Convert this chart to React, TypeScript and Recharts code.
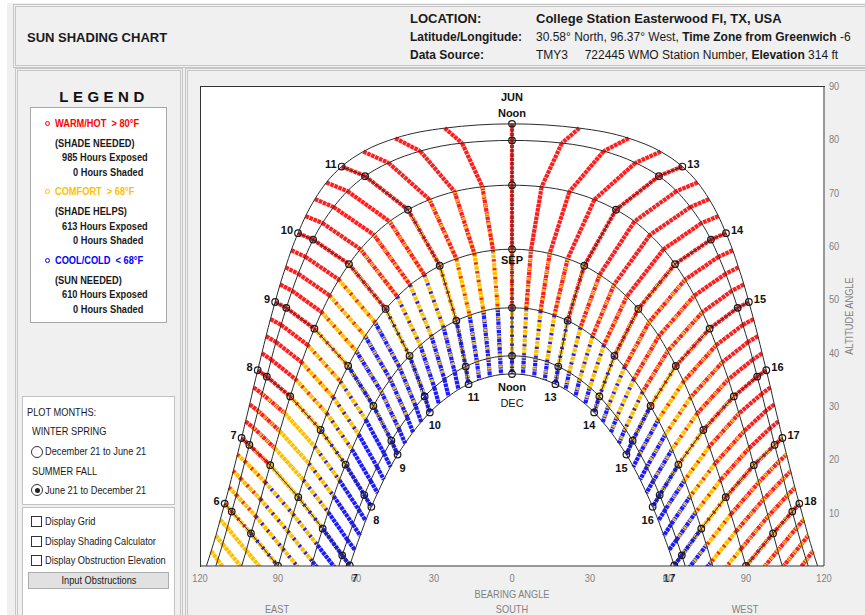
import React from 'react';
import { LineChart, Line, XAxis, YAxis, ReferenceDot } from 'recharts';

// Sun position on the 21st of each month, every quarter hour from solar noon (index 0)
// back to sunrise. Bearing is degrees from south; the afternoon is the mirror image (west).
const JUN_ALT = [82.9, 82.1, 80.2, 77.7, 74.9, 71.9, 68.8, 65.6, 62.4, 59.2, 56.0, 52.8, 49.5, 46.3, 43.1, 39.9, 36.7, 33.5, 30.3, 27.1, 24.0, 20.9, 17.8, 14.7, 11.7, 8.7, 5.7, 2.8, -0.1];
const JUN_BRG = [0, 25.9, 44.9, 57.2, 65.5, 71.4, 75.8, 79.4, 82.3, 84.9, 87.1, 89.2, 91.1, 92.9, 94.6, 96.2, 97.8, 99.4, 100.9, 102.5, 104.0, 105.6, 107.2, 108.8, 110.5, 112.2, 113.9, 115.7, 117.6];
const JUL_ALT = [79.8, 79.3, 77.8, 75.6, 73.1, 70.3, 67.3, 64.3, 61.2, 58.0, 54.8, 51.6, 48.4, 45.2, 42.0, 38.7, 35.5, 32.3, 29.1, 25.9, 22.7, 19.6, 16.4, 13.3, 10.2, 7.2, 4.1, 1.1, -1.8];
const JUL_BRG = [0, 19.2, 35.3, 47.5, 56.5, 63.3, 68.6, 72.9, 76.5, 79.5, 82.2, 84.6, 86.8, 88.8, 90.8, 92.6, 94.3, 96.1, 97.7, 99.4, 101.0, 102.7, 104.4, 106.0, 107.8, 109.5, 111.3, 113.2, 115.1];
const AUG_ALT = [71.4, 71.1, 70.2, 68.7, 66.8, 64.6, 62.1, 59.4, 56.6, 53.7, 50.7, 47.6, 44.5, 41.4, 38.2, 35.0, 31.8, 28.6, 25.3, 22.1, 18.9, 15.7, 12.5, 9.3, 6.1, 2.9, -0.2, -3.4];
const AUG_BRG = [0, 11.4, 22.1, 31.7, 40.0, 47.1, 53.1, 58.3, 62.7, 66.6, 70.1, 73.2, 76.0, 78.5, 80.9, 83.2, 85.3, 87.3, 89.3, 91.2, 93.0, 94.9, 96.7, 98.5, 100.4, 102.2, 104.1, 106.1];
const SEP_ALT = [59.4, 59.2, 58.6, 57.6, 56.3, 54.6, 52.7, 50.5, 48.2, 45.7, 43.1, 40.3, 37.5, 34.6, 31.6, 28.6, 25.5, 22.4, 19.2, 16.1, 12.9, 9.7, 6.5, 3.2, 0, -3.2];
const SEP_BRG = [0, 7.3, 14.5, 21.4, 27.8, 33.7, 39.2, 44.1, 48.6, 52.7, 56.5, 59.9, 63.0, 66.0, 68.7, 71.2, 73.6, 75.9, 78.1, 80.2, 82.2, 84.2, 86.2, 88.1, 90.0, 91.9];
const OCT_ALT = [48.4, 48.3, 47.8, 47.0, 46.0, 44.7, 43.1, 41.4, 39.4, 37.3, 35.0, 32.6, 30.0, 27.4, 24.7, 21.9, 19.0, 16.1, 13.1, 10.1, 7.0, 3.9, 0.8, -2.4];
const OCT_BRG = [0, 5.5, 11.0, 16.3, 21.4, 26.3, 31.0, 35.3, 39.4, 43.3, 46.8, 50.2, 53.3, 56.2, 59.0, 61.6, 64.0, 66.4, 68.6, 70.7, 72.8, 74.8, 76.7, 78.6];
const NOV_ALT = [39.4, 39.3, 38.9, 38.3, 37.4, 36.3, 35.0, 33.5, 31.8, 29.9, 27.9, 25.7, 23.5, 21.1, 18.6, 16.0, 13.3, 10.6, 7.8, 4.9, 2.0, -0.9, -3.9];
const NOV_BRG = [0, 4.6, 9.1, 13.5, 17.8, 22.0, 26.0, 29.9, 33.6, 37.0, 40.3, 43.5, 46.4, 49.2, 51.9, 54.4, 56.8, 59.0, 61.2, 63.3, 65.3, 67.2, 69.0];
const DEC_ALT = [36.0, 35.9, 35.5, 34.9, 34.1, 33.1, 31.8, 30.4, 28.8, 27.0, 25.1, 23.0, 20.9, 18.6, 16.2, 13.7, 11.1, 8.5, 5.7, 3.0, 0.1, -2.8];
const DEC_BRG = [0, 4.2, 8.5, 12.6, 16.7, 20.6, 24.4, 28.1, 31.6, 34.9, 38.1, 41.1, 44.0, 46.7, 49.3, 51.7, 54.1, 56.3, 58.4, 60.4, 62.4, 64.3];

const ALTITUDES = [JUN_ALT, JUL_ALT, AUG_ALT, SEP_ALT, OCT_ALT, NOV_ALT, DEC_ALT];
const BEARINGS = [JUN_BRG, JUL_BRG, AUG_BRG, SEP_BRG, OCT_BRG, NOV_BRG, DEC_BRG];

const BEARING_TICKS = [-120, -90, -60, -30, 0, 30, 60, 90, 120];
const ALTITUDE_TICKS = [10, 20, 30, 40, 50, 60, 70, 80, 90];

// temperature class of the dots between two dates, by clock hour
// first letter = main colour, second = odd dots mixed in
const HOUR_BINS = [5, 6, 7, 8, 9, 10, 11, 12, 13, 14, 15, 16, 17, 18];
const TEMP_CLASS = [
  ['Y', 'YR', 'R', 'R', 'R', 'R', 'R', 'R', 'R', 'R', 'R', 'R', 'RY', 'RY'], // jun-jul
  ['Y', 'YR', 'RY', 'R', 'R', 'R', 'R', 'R', 'R', 'R', 'R', 'R', 'RY', 'RY'], // jul-aug
  ['Y', 'YB', 'Y', 'YR', 'YR', 'RY', 'RY', 'R', 'R', 'RY', 'RY', 'RY', 'RY', 'RY'], // aug-sep
  ['Y', 'YB', 'YB', 'YB', 'BY', 'YB', 'YR', 'RY', 'RY', 'RY', 'YR', 'YR', 'YR', 'Y'], // sep-oct
  ['B', 'B', 'B', 'B', 'BY', 'BY', 'BY', 'YB', 'YB', 'YB', 'BY', 'BY', 'BY', 'B'], // oct-nov
  ['B', 'B', 'B', 'B', 'B', 'B', 'BY', 'BY', 'BY', 'BY', 'B', 'B', 'B', 'B'], // nov-dec
];
const TEMP_COLORS: Record<string, string> = { R: '#ff1e1e', Y: '#ffc000', B: '#1c1cff' };

const JUN_HOURS = [6, 7, 8, 9, 10, 11, 13, 14, 15, 16, 17, 18];
const DEC_HOURS = [7, 8, 9, 10, 11, 13, 14, 15, 16, 17];

const LEGEND_ROWS = [
  { title: 'WARM/HOT  > 80°F', need: '(SHADE NEEDED)', exposed: 985, shaded: 0, color: '#ff0000' },
  { title: 'COMFORT  > 68°F', need: '(SHADE HELPS)', exposed: 613, shaded: 0, color: '#ffc000' },
  { title: 'COOL/COLD  < 68°F', need: '(SUN NEEDED)', exposed: 610, shaded: 0, color: '#0000ff' },
];

const FONT = '"Liberation Sans", Arial, sans-serif';
const SQUEEZE = 0.84; // the form uses a narrow face; squeeze the regular one to match

type Pt = { x: number | null; y: number | null };
const GAP: Pt = { x: null, y: null };

const sunAt = (d: number, i: number, side: number): Pt => ({ x: side * BEARINGS[d][i], y: ALTITUDES[d][i] });

// one clock time followed from June to December, until the sun is down at that time
const track = (i: number, side: number): Pt[] => {
  const pts: Pt[] = [];
  for (let d = 0; d < ALTITUDES.length && i < ALTITUDES[d].length; d++) {
    pts.push(sunAt(d, i, side));
    if (ALTITUDES[d][i] <= 0) break;
  }
  return pts;
};

const STEPS = JUN_ALT.length;
const sides = (i: number) => (i === 0 ? [1] : [-1, 1]);

const dotted: Record<string, Pt[]> = { R: [], Y: [], B: [] };
const sprinkled: Record<string, Pt[]> = { R: [], Y: [], B: [] };
for (let i = 0; i < STEPS; i++) {
  for (const side of sides(i)) {
    const col = HOUR_BINS.indexOf(Math.floor(12 + (side * i) / 4));
    const pts = track(i, side);
    for (let k = 0; k + 1 < pts.length; k++) {
      const cls = TEMP_CLASS[k][col];
      dotted[cls[0]].push(pts[k], pts[k + 1], GAP);
      if (cls[1]) sprinkled[cls[1]].push(pts[k], pts[k + 1], GAP);
    }
  }
}

const dateArcs: Pt[] = [];
ALTITUDES.forEach((alts, d) => {
  for (let i = alts.length - 1; i > 0; i--) dateArcs.push(sunAt(d, i, -1));
  for (let i = 0; i < alts.length; i++) dateArcs.push(sunAt(d, i, 1));
  dateArcs.push(GAP);
});

const hourLines: Pt[] = [];
const hourMarks: Pt[] = [];
for (let i = 0; i < STEPS; i += 4) {
  for (const side of sides(i)) {
    const pts = track(i, side);
    if (pts.length > 1) hourLines.push(...pts, GAP);
    pts.forEach((p) => { if ((p.y as number) >= 0) hourMarks.push(p); });
  }
}

const hourPoint = (d: number, h: number) => {
  const side = h < 12 ? -1 : 1;
  return { ...sunAt(d, Math.abs(h - 12) * 4, side), side, text: String(h) };
};
const junLabels = JUN_HOURS.map((h) => hourPoint(0, h));
const decLabels = DEC_HOURS.map((h) => hourPoint(6, h));

const textAt = (lines: { t: string; dx: number; dy: number; anchor: string; bold?: boolean }[]) => (props: any) => {
  const vb = props.viewBox || props;
  return (
    <g>
      {lines.map((l, n) => (
        <text key={n} x={vb.x + l.dx} y={vb.y + l.dy} textAnchor={l.anchor} fontSize={11} fontFamily={FONT}
          fontWeight={l.bold === false ? 400 : 700} fill="#111">{l.t}</text>
      ))}
    </g>
  );
};

// axis tick text, squeezed about its anchor point
const AxisTick = ({ x, y, payload, textAnchor, dy }: any) => (
  <text x={x} y={y} dy={dy} textAnchor={textAnchor} fontSize={11} fontFamily={FONT} fill="#808080"
    transform={`translate(${x} 0) scale(${SQUEEZE} 1) translate(${-x} 0)`}>
    {String(Math.abs(payload.value))}
  </text>
);

const Txt = ({ x, y, size = 11, bold = false, color = '#1a1a1a', narrow = true, children }: any) => (
  <div style={{ position: 'absolute', left: x, top: y - size * 0.59, fontSize: size, lineHeight: `${size * 1.2}px`,
    fontWeight: bold ? 700 : 400, color, whiteSpace: 'pre', fontFamily: FONT,
    transform: narrow ? `scaleX(${SQUEEZE})` : undefined, transformOrigin: 'left center' }}>{children}</div>
);

const Centered = ({ x, y, size = 11, color = '#808080', children }: any) => (
  <div style={{ position: 'absolute', left: x - 60, top: y - size * 0.59, width: 120, textAlign: 'center', fontSize: size,
    lineHeight: `${size * 1.2}px`, color, whiteSpace: 'pre', fontFamily: FONT, transform: `scaleX(${SQUEEZE})` }}>{children}</div>
);

const box = (left: number, top: number, width: number, height: number, extra: any = {}) => (
  <div style={{ position: 'absolute', left, top, width, height, boxSizing: 'border-box', ...extra }} />
);

export default function App() {
  return (
    <div style={{ position: 'absolute', left: 0, top: 0, width: 865, height: 615, background: '#fff', overflow: 'hidden', fontFamily: FONT }}>
      {box(7, 3, 870, 620, { background: '#f0f0f0' })}
      {box(13, 4, 860, 64, { border: '3px double #c6c6c6' })}
      {box(15, 68, 168, 560, { border: '3px double #c6c6c6' })}
      {box(185, 68, 690, 560, { border: '3px double #c6c6c6' })}

      <Txt x={27} y={38} size={13} bold narrow={false}>SUN SHADING CHART</Txt>
      <Txt x={410} y={19} size={13} bold narrow={false}>LOCATION:</Txt>
      <Txt x={536} y={19} size={13} bold narrow={false}>College Station Easterwood Fl, TX, USA</Txt>
      <Txt x={410} y={37} size={12} bold narrow={false}>Latitude/Longitude:</Txt>
      <Txt x={536} y={37} size={12} narrow={false}>30.58° North, 96.37° West, <b>Time Zone from Greenwich</b> -6</Txt>
      <Txt x={410} y={55} size={12} bold narrow={false}>Data Source:</Txt>
      <Txt x={536} y={55} size={12} narrow={false}>{'TMY3     722445 WMO Station Number, '}<b>Elevation</b> 314 ft</Txt>

      <div style={{ position: 'absolute', left: 40, top: 88, width: 124, textAlign: 'center', fontSize: 15, fontWeight: 700,
        letterSpacing: 4.5, lineHeight: '18px', color: '#111', fontFamily: FONT, paddingLeft: 4, boxSizing: 'border-box' }}>LEGEND</div>
      {box(30, 107, 137, 216, { background: '#fff', border: '1px solid #a8a8a8' })}
      {LEGEND_ROWS.map((r, k) => {
        const y0 = 123 + k * 68.6;
        return (
          <React.Fragment key={r.title}>
            {box(44.5, y0 - 2.5, 5, 5, { border: `1.2px solid ${r.color}`, borderRadius: '50%' })}
            <Txt x={55} y={y0} bold color={r.color}>{r.title}</Txt>
            <Txt x={55} y={y0 + 20} bold>{r.need}</Txt>
            <Txt x={62} y={y0 + 34.5} bold>{`${r.exposed} Hours Exposed`}</Txt>
            <Txt x={73} y={y0 + 49} bold>{`${r.shaded} Hours Shaded`}</Txt>
          </React.Fragment>
        );
      })}

      {box(22, 396, 153, 109, { background: '#fff', border: '1px solid #c2c2c2' })}
      <Txt x={27} y={412} size={11}>PLOT MONTHS:</Txt>
      <Txt x={32} y={431.5} size={11}>WINTER SPRING</Txt>
      {box(31, 446, 12, 12, { border: '1px solid #333', borderRadius: '50%', background: '#fff' })}
      <Txt x={45} y={451.5} size={11}>December 21 to June 21</Txt>
      <Txt x={32} y={471} size={11}>SUMMER FALL</Txt>
      {box(31, 484, 12, 12, { border: '1px solid #333', borderRadius: '50%', background: '#fff' })}
      {box(34.5, 487.5, 5, 5, { borderRadius: '50%', background: '#222' })}
      <Txt x={45} y={490} size={11}>June 21 to December 21</Txt>

      {box(22, 507, 153, 120, { background: '#fff', border: '1px solid #c2c2c2' })}
      {[521.5, 541, 560.5].map((y) => <React.Fragment key={y}>{box(31, y - 5.5, 11, 11, { border: '1px solid #333', background: '#fff' })}</React.Fragment>)}
      <Txt x={45} y={521.5} size={11}>Display Grid</Txt>
      <Txt x={45} y={541} size={11}>Display Shading Calculator</Txt>
      <Txt x={45} y={560.5} size={11}>Display Obstruction Elevation</Txt>
      {box(28, 572, 141, 17, { background: '#e1e1e1', border: '1px solid #adadad' })}
      <Centered x={98.5} y={580.5} color="#1a1a1a">Input Obstructions</Centered>

      {box(200, 86, 625, 481, { background: '#fff', borderTop: '1px solid #333', borderLeft: '1px solid #333' })}

      <div style={{ position: 'absolute', left: 0, top: 0 }}>
        <LineChart width={865} height={615} margin={{ top: 86, right: 0, bottom: 0, left: 200 }}>
          <XAxis type="number" dataKey="x" domain={[-120, 120]} ticks={BEARING_TICKS} interval={0} allowDataOverflow
            height={49} tickLine={false} axisLine={{ stroke: '#333' }} tick={<AxisTick dy="0.71em" />} />
          <YAxis type="number" orientation="right" domain={[0, 90]} ticks={ALTITUDE_TICKS} interval={0} allowDataOverflow
            width={41} tickLine={false} tickSize={3} axisLine={{ stroke: '#333' }} tick={<AxisTick dy="0.355em" />} />
          {['Y', 'B', 'R'].map((c) => (
            <Line key={'dot' + c} data={dotted[c]} dataKey="y" type="linear" stroke={TEMP_COLORS[c]} strokeWidth={4.2}
              strokeDasharray="3.6 0.7" dot={false} activeDot={false} isAnimationActive={false} />
          ))}
          {['Y', 'B', 'R'].map((c) => (
            <Line key={'spr' + c} data={sprinkled[c]} dataKey="y" type="linear" stroke={TEMP_COLORS[c]} strokeWidth={3.8}
              strokeDasharray="2 7" dot={false} activeDot={false} isAnimationActive={false} />
          ))}
          <Line data={dateArcs} dataKey="y" type="monotone" stroke="#2a2a2a" strokeWidth={1} dot={false} activeDot={false} isAnimationActive={false} />
          <Line data={hourLines} dataKey="y" type="linear" stroke="#2a2a2a" strokeWidth={1} dot={false} activeDot={false} isAnimationActive={false} />
          <Line data={hourMarks} dataKey="y" stroke="none" activeDot={false} isAnimationActive={false}
            dot={{ r: 3.3, fill: 'none', stroke: '#1a1a1a', strokeWidth: 1.2 }} />
          {junLabels.map((l) => (
            <ReferenceDot key={'j' + l.text} x={l.x as number} y={l.y as number} r={0} stroke="none" fill="none"
              label={textAt([{ t: l.text, dx: l.side * 5, dy: 1, anchor: l.side < 0 ? 'end' : 'start' }])} />
          ))}
          {decLabels.map((l) => (
            <ReferenceDot key={'d' + l.text} x={l.x as number} y={l.y as number} r={0} stroke="none" fill="none"
              label={textAt([{ t: l.text, dx: -l.side * 5, dy: 17, anchor: 'middle' }])} />
          ))}
          <ReferenceDot x={0} y={JUN_ALT[0]} r={0} stroke="none" fill="none"
            label={textAt([{ t: 'JUN', dx: 0, dy: -23, anchor: 'middle' }, { t: 'Noon', dx: 0, dy: -7, anchor: 'middle' }])} />
          <ReferenceDot x={0} y={SEP_ALT[0]} r={0} stroke="none" fill="none"
            label={textAt([{ t: 'SEP', dx: 0, dy: 15, anchor: 'middle' }])} />
          <ReferenceDot x={0} y={DEC_ALT[0]} r={0} stroke="none" fill="none"
            label={textAt([{ t: 'Noon', dx: 0, dy: 17, anchor: 'middle' }, { t: 'DEC', dx: 0, dy: 33, anchor: 'middle', bold: false }])} />
        </LineChart>
      </div>

      <div style={{ position: 'absolute', left: 849, top: 316, transform: `translate(-50%, -50%) rotate(-90deg) scaleX(${SQUEEZE})`,
        fontSize: 11, color: '#808080', whiteSpace: 'nowrap', fontFamily: FONT }}>ALTITUDE ANGLE</div>
      <Centered x={512} y={594}>BEARING ANGLE</Centered>
      <Centered x={277} y={609}>EAST</Centered>
      <Centered x={512} y={609}>SOUTH</Centered>
      <Centered x={745} y={609}>WEST</Centered>
    </div>
  );
}
